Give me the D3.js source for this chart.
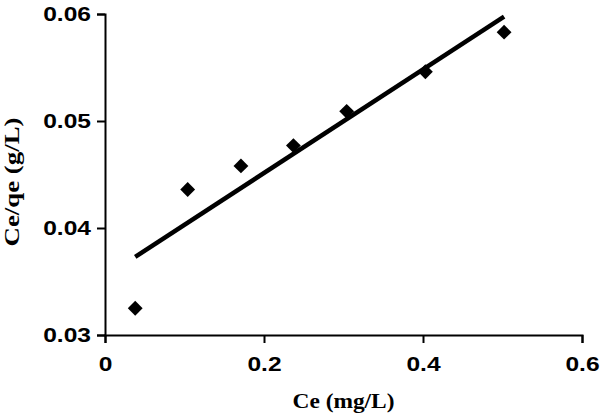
<!DOCTYPE html>
<html>
<head>
<meta charset="utf-8">
<script src="https://cdn.jsdelivr.net/npm/d3@7"></script>
<style>
  body { margin: 0; background: #fff; }
  .tick text { font-family: "Liberation Sans", Arial, sans-serif; font-weight: bold; font-size: 21px; }
  .title { font-family: "Liberation Serif", "Times New Roman", serif; font-weight: bold; }
</style>
</head>
<body>
<div id="chart"></div>
<script>
var width = 600,
  height = 414;

// measured points
var ceValues = [0.038, 0.104, 0.171, 0.237, 0.304, 0.403, 0.502];
var ceqeValues = [0.0325, 0.0436, 0.0458, 0.0477, 0.0509, 0.0546, 0.0583];

// trend line ends
var fitX = [0.038, 0.502];
var fitY = [0.0373, 0.05975];

var xTicks = [0, 0.2, 0.4, 0.6];
var yTicks = [0.03, 0.04, 0.05, 0.06];

var margin = { top: 14, right: 18, bottom: 79, left: 105 };
var stretch = 1.17; // glyphs in the picture are a bit wide

var x = d3.scaleLinear()
  .domain([0, 0.6])
  .range([margin.left, width - margin.right]);
var y = d3.scaleLinear()
  .domain([0.03, 0.06])
  .range([height - margin.bottom, margin.top]);

var svg = d3.select("#chart").append("svg")
  .attr("width", width)
  .attr("height", height);

var xAxis = svg.append("g")
  .attr("transform", "translate(0," + y(0.03) + ")")
  .call(d3.axisBottom(x).tickValues(xTicks).tickSize(8).tickPadding(13)
    .tickFormat(function(d) { return d === 0 ? "0" : d3.format(".1f")(d); }));

var yAxis = svg.append("g")
  .attr("transform", "translate(" + x(0) + ",0)")
  .call(d3.axisLeft(y).tickValues(yTicks).tickSize(8).tickPadding(6)
    .tickFormat(d3.format(".2f")));

[xAxis, yAxis].forEach(function(a) {
  a.select(".domain").attr("stroke", "#000").attr("stroke-width", 2);
  a.selectAll(".tick line").attr("stroke", "#000").attr("stroke-width", 2);
  a.selectAll(".tick text").attr("fill", "#000")
    .each(function() {
      d3.select(this)
        .attr("textLength", this.getComputedTextLength() * stretch)
        .attr("lengthAdjust", "spacingAndGlyphs");
    });
});

var line = d3.line()
  .x(function(d) { return x(d[0]); })
  .y(function(d) { return y(d[1]); });

svg.append("path")
  .datum(d3.zip(fitX, fitY))
  .attr("fill", "none")
  .attr("stroke", "#000")
  .attr("stroke-width", 4.5)
  .attr("d", line);

var diamond = d3.symbol().type(d3.symbolSquare).size(110);

svg.selectAll(".pt")
  .data(d3.zip(ceValues, ceqeValues))
  .enter().append("path")
    .attr("class", "pt")
    .attr("d", diamond)
    .attr("fill", "#000")
    .attr("transform", function(d) {
      return "translate(" + x(d[0]) + "," + y(d[1]) + ") rotate(45)";
    });

svg.append("text")
  .attr("class", "title")
  .attr("x", (x(0) + x(0.6)) / 2)
  .attr("y", 408)
  .attr("text-anchor", "middle")
  .style("font-size", "20px")
  .attr("textLength", 102)
  .attr("lengthAdjust", "spacingAndGlyphs")
  .text("Ce (mg/L)");

svg.append("text")
  .attr("class", "title")
  .attr("transform", "translate(19,182) rotate(-90)")
  .attr("text-anchor", "middle")
  .style("font-size", "22px")
  .attr("textLength", 129)
  .attr("lengthAdjust", "spacingAndGlyphs")
  .text("Ce/qe (g/L)");
</script>
</body>
</html>
